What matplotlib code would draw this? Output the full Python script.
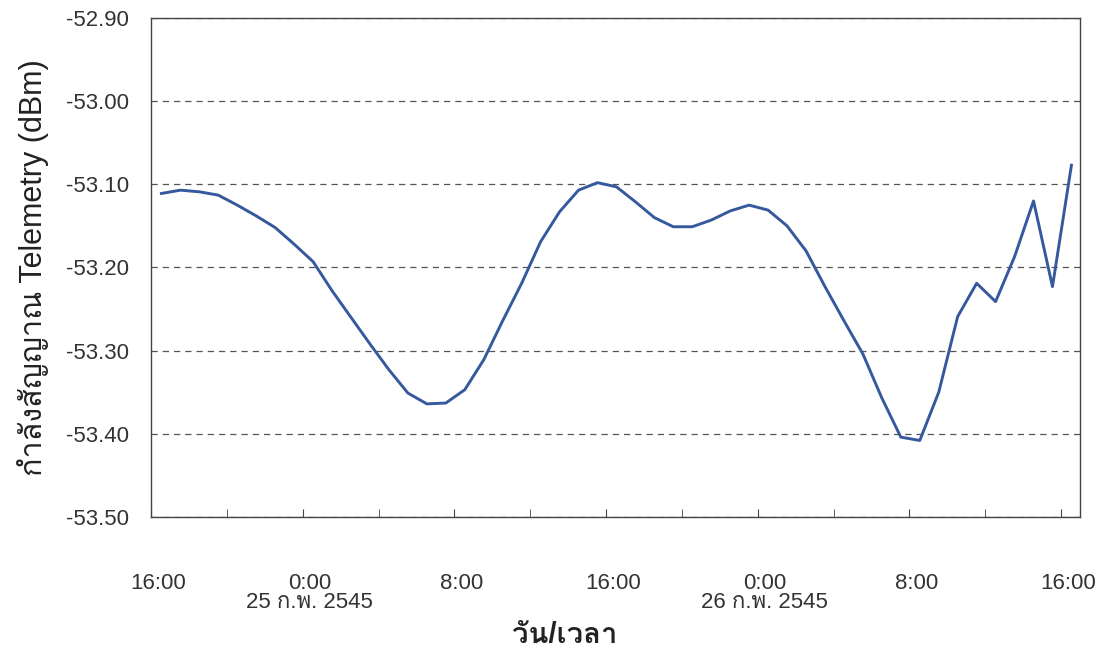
import numpy as np
import matplotlib
matplotlib.use("Agg")
import matplotlib.pyplot as plt
import matplotlib.transforms as mtransforms
from matplotlib import font_manager
from matplotlib.ft2font import FT2Font
from matplotlib.ticker import MultipleLocator, FixedLocator, NullFormatter

# hourly readings, first one about 16:30 on 24 Feb 2545
hours = np.arange(49) + 0.55
power = [-53.111, -53.107, -53.109, -53.113, -53.125, -53.138, -53.152, -53.172,
         -53.193, -53.228, -53.260, -53.292, -53.323, -53.351, -53.364, -53.363,
         -53.347, -53.311, -53.264, -53.219, -53.169, -53.133, -53.107, -53.098,
         -53.103, -53.121, -53.140, -53.151, -53.151, -53.143, -53.132, -53.125,
         -53.131, -53.150, -53.180, -53.223, -53.264, -53.304, -53.357, -53.404,
         -53.408, -53.350, -53.259, -53.219, -53.241, -53.187, -53.120, -53.223,
         -53.077]

label_hours = [0, 8, 16, 24, 32, 40, 48]
label_text = ["16:00", "0:00\n25 ก.พ. 2545", "8:00", "16:00",
              "0:00\n26 ก.พ. 2545", "8:00", "16:00"]
ylabel = "กำลังสัญญาณ Telemetry (dBm)"
xlabel = "วัน/เวลา"

# look for any installed font that has Thai letters
thai = None
for f in font_manager.fontManager.ttflist:
    try:
        if 0x0E01 in FT2Font(f.fname).get_charmap():
            thai = f.name
            break
    except Exception:
        pass
fams = ["Liberation Sans"] + ([thai] if thai else []) + ["DejaVu Sans"]
plt.rcParams["font.family"] = fams

fig = plt.figure(figsize=(11.08, 6.48), dpi=100)
ax = fig.add_axes([0.1363, 0.2022, 0.8384, 0.770])

ax.plot(hours, power, color="#35599c", lw=2.1)

ax.set_xlim(0, 49)
ax.set_ylim(-53.5, -52.9)
ax.yaxis.set_major_locator(MultipleLocator(0.1))
ax.set_yticklabels([f"{v:.2f}" for v in ax.get_yticks()])
ax.tick_params(axis="y", length=0, pad=16, labelsize=16, labelcolor="#333")
ax.grid(axis="y", color="#555", ls=(0, (5, 4)), lw=0.9)

ax.xaxis.set_major_locator(FixedLocator(label_hours))
ax.set_xticklabels(label_text)
ax.xaxis.set_minor_locator(FixedLocator([4, 12, 20, 28, 36, 44]))
ax.xaxis.set_minor_formatter(NullFormatter())
ax.tick_params(axis="x", which="both", direction="in", length=6, color="#444",
               pad=40, labelsize=16, labelcolor="#333")
shift = mtransforms.ScaledTranslation(7 / 100, 0, fig.dpi_scale_trans)
for t in ax.get_xticklabels():
    t.set_linespacing(0.92)
    t.set_transform(t.get_transform() + shift)

for s in ax.spines.values():
    s.set_color("#444")
    s.set_linewidth(1.0)

ax.set_ylabel(ylabel, fontsize=22, labelpad=12, color="#222")
fig.text(0.51, 0.008, xlabel, fontsize=21, fontweight="bold", ha="center", color="#222")

fig.savefig("out.png", dpi=100)
